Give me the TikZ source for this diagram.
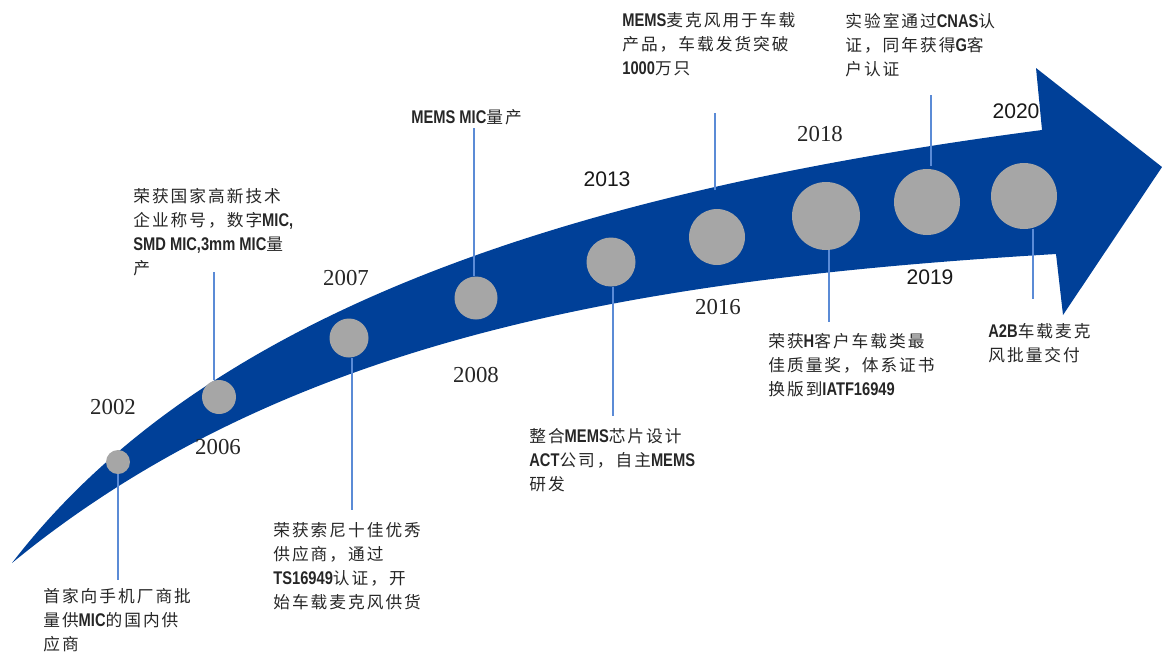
\documentclass[tikz,border=0pt]{standalone}
\usepackage{fontspec}
\setmainfont{Liberation Serif}
\newfontfamily\arialf{Liberation Sans}
\newfontfamily\cjk[LetterSpace=12]{Noto Sans CJK SC}
\newfontfamily\latf[Scale=1.1, FakeStretch=0.8]{Liberation Sans Bold}
\newcommand\latn[1]{{\latf #1}}
\definecolor{arrowblue}{RGB}{0,64,152}
\definecolor{dotgrey}{RGB}{166,166,166}
\definecolor{leadblue}{RGB}{91,139,214}
\tikzset{
  dot/.style={circle, fill=dotgrey, draw=none, inner sep=0pt},
  leader/.style={draw=leadblue, line width=0.6pt},
  yearserif/.style={font=\fontsize{13pt}{15pt}\selectfont, inner sep=0pt, text=black!85},
  yearsans/.style={font=\arialf\fontsize{12pt}{14pt}\selectfont, inner sep=0pt, text=black!90},
  note/.style={font=\cjk\fontsize{9.5pt}{13.6pt}\selectfont, align=left, anchor=north west, inner sep=0pt, text=black!85}
}
\begin{document}
\begin{tikzpicture}[x=0.02cm, y=-0.02cm]
\useasboundingbox (0,0) rectangle (1162,653);
% arrow band
\fill[arrowblue] (12,563) .. controls (212,303) and (592,189) .. (1042,130)
  -- (1036,68) -- (1162,167) -- (1063,315) -- (1056,254)
  .. controls (656,278) and (292,333) .. (12,563) -- cycle;
% dots (minimum size = diameter in px * 0.02cm)
\node[dot, minimum size=0.48cm] (c1) at (118,462) {};
\node[dot, minimum size=0.68cm] (c2) at (219,397) {};
\node[dot, minimum size=0.78cm] (c3) at (349,338) {};
\node[dot, minimum size=0.86cm] (c4) at (476,298) {};
\node[dot, minimum size=0.98cm] (c5) at (611,262) {};
\node[dot, minimum size=1.12cm] (c6) at (717,237) {};
\node[dot, minimum size=1.36cm] (c7) at (826,216) {};
\node[dot, minimum size=1.32cm] (c8) at (927,202) {};
\node[dot, minimum size=1.32cm] (c9) at (1024,196) {};
% leader ends
\coordinate (a1) at (118,474); \coordinate (b1) at (118,580);
\coordinate (a2) at (214,380); \coordinate (b2) at (214,272);
\coordinate (a3) at (352,358); \coordinate (b3) at (352,510);
\coordinate (a4) at (474,276); \coordinate (b4) at (474,128);
\coordinate (a5) at (613,287); \coordinate (b5) at (613,416);
\coordinate (a6) at (715,190); \coordinate (b6) at (715,113);
\coordinate (a7) at (829,250); \coordinate (b7) at (829,322);
\coordinate (a8) at (931,166); \coordinate (b8) at (931,95);
\coordinate (a9) at (1033,229); \coordinate (b9) at (1033,299);
\foreach \i in {1,...,9} { \draw[leader] (a\i) -- (b\i); }
% years
\node[yearserif] (y1) at (113,407) {2002};
\node[yearserif] (y2) at (218,447) {2006};
\node[yearserif] (y3) at (346,278) {2007};
\node[yearserif] (y4) at (476,375) {2008};
\node[yearsans]  (y5) at (607,179) {2013};
\node[yearserif] (y6) at (718,307) {2016};
\node[yearserif] (y7) at (820,134) {2018};
\node[yearsans]  (y8) at (930,277) {2019};
\node[yearsans]  (y9) at (1016,111) {2020};
% notes
\node[note] (t1) at (43,588) {首家向手机厂商批\\量供\latn{MIC}的国内供\\应商};
\node[note] (t2) at (133,188) {荣获国家高新技术\\企业称号，数字\latn{MIC,}\\\latn{SMD MIC,3mm MIC}量\\产};
\node[note] (t3) at (273,522) {荣获索尼十佳优秀\\供应商，通过\\\latn{TS16949}认证，开\\始车载麦克风供货};
\node[note] (t4) at (411,109) {\latn{MEMS MIC}量产};
\node[note] (t5) at (529,428) {整合\latn{MEMS}芯片设计\\\latn{ACT}公司，自主\latn{MEMS}\\研发};
\node[note] (t6) at (622,12) {\latn{MEMS}麦克风用于车载\\产品，车载发货突破\\\latn{1000}万只};
\node[note] (t7) at (768,333) {荣获\latn{H}客户车载类最\\佳质量奖，体系证书\\换版到\latn{IATF16949}};
\node[note] (t8) at (845,13) {实验室通过\latn{CNAS}认\\证，同年获得\latn{G}客\\户认证};
\node[note] (t9) at (988,323) {\latn{A2B}车载麦克\\风批量交付};
\end{tikzpicture}
\end{document}
